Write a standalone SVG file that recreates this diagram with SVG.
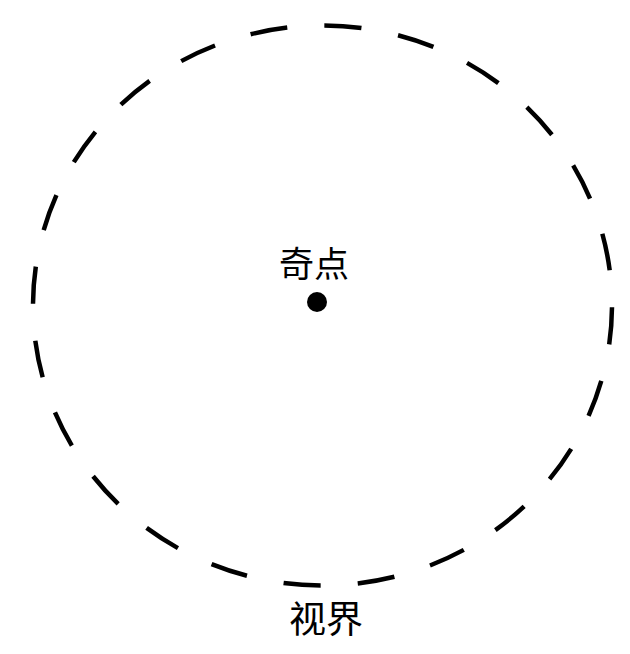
<svg xmlns="http://www.w3.org/2000/svg" width="630" height="654" viewBox="0 0 630 654">
  <style>
    .lbl { font-family: "Noto Sans CJK SC", "Noto Sans CJK JP", sans-serif; fill: #000; text-anchor: middle; }
  </style>
  <rect width="630" height="654" fill="#fff"/>
  <g id="horizon">
    <path d="M 612 305.5 A 289.5 280 0 0 1 33 305.5 A 289.5 280 0 0 1 612 305.5" fill="none" stroke="#000" stroke-width="4.5" pathLength="48" stroke-dasharray="1 1" stroke-dashoffset="-0.05"/>
    <text class="lbl" x="326" y="633" font-size="37">视界</text>
  </g>
  <g id="singularity">
    <circle cx="317" cy="302" r="10" fill="#000"/>
    <text class="lbl" x="314" y="277" font-size="35">奇点</text>
  </g>
</svg>
